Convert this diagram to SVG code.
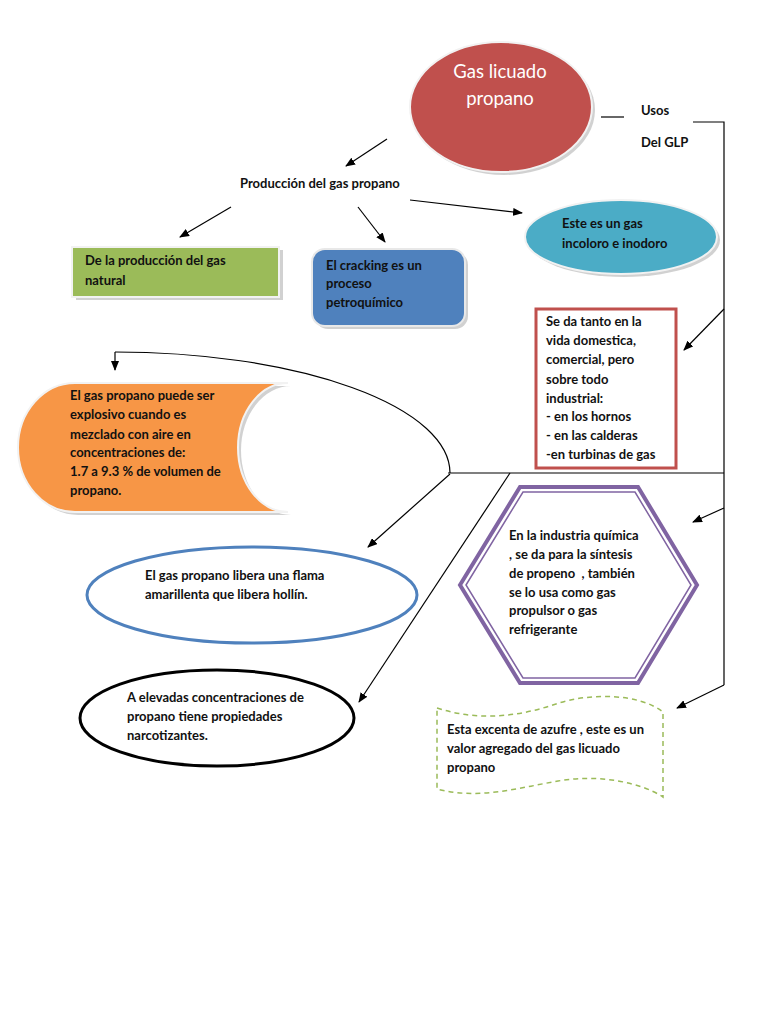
<svg xmlns="http://www.w3.org/2000/svg" width="768" height="1024" viewBox="0 0 768 1024">
<style>
.t{font-family:Lato,"Liberation Sans",sans-serif;font-size:13px;font-weight:bold;fill:#111;}
.title{font-family:Lato,"Liberation Sans",sans-serif;font-size:18.5px;fill:#fff;}
.ln{stroke:#000;stroke-width:1.2;fill:none;}
.arr{stroke:#000;stroke-width:1.2;fill:none;marker-end:url(#ah);}
.sh{fill:#999;opacity:0.45;}
</style>
<defs>
<marker id="ah" markerWidth="10" markerHeight="8" refX="9" refY="4" orient="auto" markerUnits="userSpaceOnUse">
<path d="M0,0 L10,4 L0,8 Z" fill="#000"/>
</marker>
</defs>
<rect width="768" height="1024" fill="#fff"/>

<g id="connectors">
<line class="arr" x1="387" y1="139" x2="346" y2="166"/>
<line class="ln" x1="601" y1="117" x2="624" y2="117"/>
<polyline class="ln" points="693,122 724,122 724,685"/>
<line class="arr" x1="724" y1="309" x2="684" y2="350"/>
<line class="arr" x1="724" y1="508" x2="693" y2="522"/>
<line class="arr" x1="724" y1="685" x2="677" y2="708"/>
<line class="ln" x1="448" y1="473" x2="724" y2="473"/>
<path class="ln" d="M115,352 A335 121 0 0 1 450 473"/>
<line class="arr" x1="115" y1="352" x2="115" y2="370"/>
<line class="arr" x1="450" y1="474" x2="368" y2="547"/>
<line class="arr" x1="510" y1="473" x2="359" y2="702"/>
<line class="arr" x1="231" y1="207" x2="180" y2="237"/>
<line class="arr" x1="358" y1="207" x2="385" y2="242"/>
<line class="arr" x1="410" y1="200" x2="522" y2="213"/>
</g>

<g id="gas-licuado">
<ellipse class="sh" cx="504" cy="110" rx="91" ry="65"/>
<ellipse cx="501" cy="107" rx="91" ry="65" fill="#C0504D" stroke="#f2f2f2" stroke-width="2"/>
<text class="title" x="500" y="78" text-anchor="middle">Gas licuado</text>
<text class="title" x="500" y="105" text-anchor="middle">propano</text>
</g>

<g id="usos">
<text class="t" x="641" y="115">Usos</text>
<text class="t" x="641" y="147">Del GLP</text>
</g>

<g id="produccion">
<text class="t" x="240" y="188">Producción del gas propano</text>
</g>

<g id="gas-natural">
<rect class="sh" x="76" y="250" width="207" height="50"/>
<rect x="72" y="247" width="207" height="50" fill="#9BBB59" stroke="#f2f2f2" stroke-width="2"/>
<text class="t" x="85" y="265">De la producción del gas</text>
<text class="t" x="85" y="285">natural</text>
</g>

<g id="cracking">
<rect class="sh" x="315" y="252" width="153" height="77" rx="13"/>
<rect x="312" y="249" width="153" height="77" rx="13" fill="#4F81BD" stroke="#e8e8e8" stroke-width="2"/>
<text class="t" x="326" y="270">El cracking es un</text>
<text class="t" x="326" y="288">proceso</text>
<text class="t" x="326" y="307">petroquímico</text>
</g>

<g id="incoloro">
<ellipse class="sh" cx="624" cy="240" rx="96" ry="37"/>
<ellipse cx="621" cy="237" rx="96" ry="37" fill="#4BACC6" stroke="#f2f2f2" stroke-width="2"/>
<text class="t" x="562" y="228">Este es un gas</text>
<text class="t" x="562" y="248">incoloro e inodoro</text>
</g>

<g id="usos-industrial">
<rect x="536" y="309" width="140" height="159" fill="#fff" stroke="#C0504D" stroke-width="3"/>
<text class="t" x="546" y="326">Se da tanto en la</text>
<text class="t" x="546" y="345">vida domestica,</text>
<text class="t" x="546" y="364">comercial, pero</text>
<text class="t" x="546" y="384">sobre todo</text>
<text class="t" x="546" y="403">industrial:</text>
<text class="t" x="546" y="421">- en los hornos</text>
<text class="t" x="546" y="440">- en las calderas</text>
<text class="t" x="546" y="459">-en turbinas de gas</text>
</g>

<g id="explosivo">
<path class="sh" d="M78,386 L291,386 A50 64.5 0 0 0 291 515 L78,515 A57 64.5 0 0 1 78 386 Z"/>
<path d="M75,383 L288,383 A50 64.5 0 0 0 288 512 L75,512 A57 64.5 0 0 1 75 383 Z" fill="#F79646" stroke="#f2f2f2" stroke-width="2"/>
<text class="t" x="70" y="400">El gas propano puede ser</text>
<text class="t" x="70" y="419">explosivo cuando es</text>
<text class="t" x="70" y="439">mezclado con aire en</text>
<text class="t" x="70" y="457">concentraciones de:</text>
<text class="t" x="70" y="476">1.7 a 9.3 % de volumen de</text>
<text class="t" x="70" y="495">propano.</text>
</g>

<g id="flama">
<ellipse cx="252" cy="595" rx="165" ry="48" fill="#fff" stroke="#4F81BD" stroke-width="3"/>
<text class="t" x="145" y="580">El gas propano libera una flama</text>
<text class="t" x="145" y="599">amarillenta que libera hollín.</text>
</g>

<g id="narcotizantes">
<ellipse cx="217" cy="718" rx="137" ry="48" fill="#fff" stroke="#000" stroke-width="3"/>
<text class="t" x="127" y="702">A elevadas concentraciones de</text>
<text class="t" x="127" y="721">propano tiene propiedades</text>
<text class="t" x="127" y="740">narcotizantes.</text>
</g>

<g id="industria-quimica">
<polygon points="460,585 520,487 638,487 697,585 638,683 520,683" fill="#fff" stroke="#8064A2" stroke-width="4"/>
<polygon points="466,585 523,492 635,492 691,585 635,678 523,678" fill="none" stroke="#8064A2" stroke-width="1.5"/>
<text class="t" x="509" y="540">En la industria química</text>
<text class="t" x="509" y="559">, se da para la síntesis</text>
<text class="t" x="509" y="578">de propeno&#160; , también</text>
<text class="t" x="509" y="597">se lo usa como gas</text>
<text class="t" x="509" y="615">propulsor o gas</text>
<text class="t" x="509" y="634">refrigerante</text>
</g>

<g id="azufre">
<path d="M437,708 C480,722 520,716 556,704 C592,692 640,694 663,712 L663,797 C640,782 598,774 558,781 C518,788 478,800 437,789 Z" fill="#fff" stroke="#9BBB59" stroke-width="1.5" stroke-dasharray="5,4"/>
<text class="t" x="447" y="734">Esta excenta de azufre , este es un</text>
<text class="t" x="447" y="753">valor agregado del gas licuado</text>
<text class="t" x="447" y="772">propano</text>
</g>
</svg>
